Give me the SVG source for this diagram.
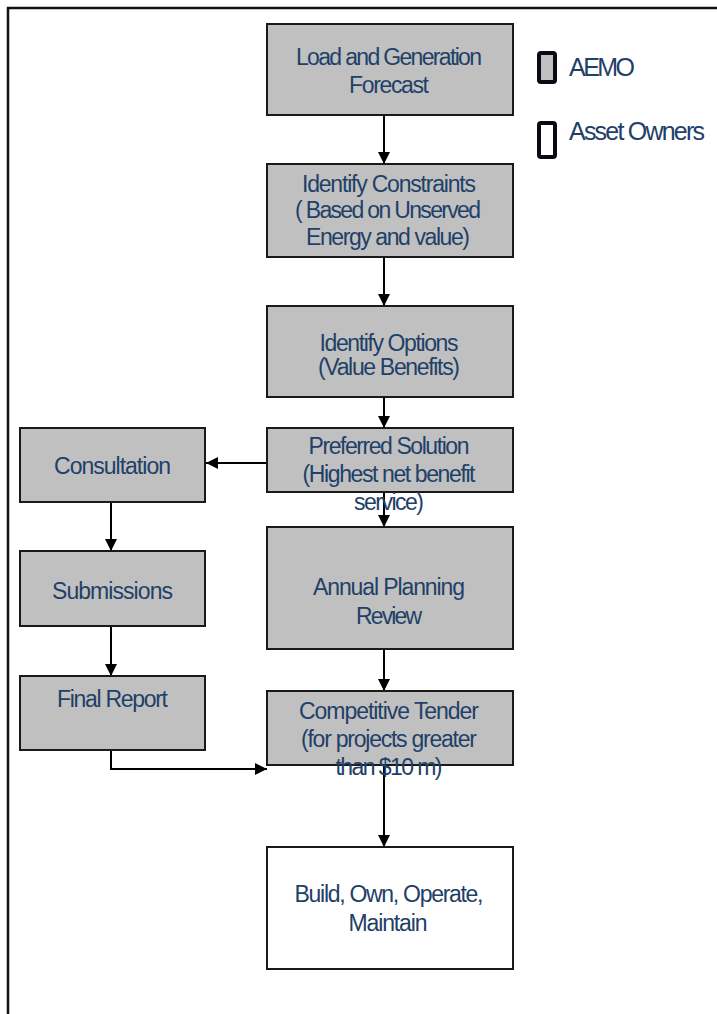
<svg xmlns="http://www.w3.org/2000/svg" width="717" height="1014" viewBox="0 0 717 1014">
  <defs>
    <marker id="arrow" viewBox="0 0 12 12" refX="12" refY="6" markerWidth="12" markerHeight="12" markerUnits="userSpaceOnUse" orient="auto">
      <path d="M0,0 L12,6 L0,12 Z" fill="#000"/>
    </marker>
    <style>
      .box { fill: #c0c0c0; stroke: #1a1a1a; stroke-width: 2; }
      .box-white { fill: #ffffff; stroke: #1a1a1a; stroke-width: 2; }
      .lbl { font-family: "Liberation Sans", Arial, sans-serif; font-size: 23px; fill: #1f4068; text-anchor: middle; }
      .leg { font-family: "Liberation Sans", Arial, sans-serif; font-size: 25px; fill: #1f4068; }
      .conn { fill: none; stroke: #000; stroke-width: 2; }
    </style>
  </defs>

  <rect width="717" height="1014" fill="#ffffff"/>
  <!-- outer frame, running off the right and bottom edges -->
  <rect x="8" y="8" width="760" height="1060" fill="none" stroke="#111" stroke-width="2.5"/>

  <!-- legend -->
  <g id="legend">
    <rect x="539" y="53" width="16" height="29" rx="2" fill="#c0c0c0" stroke="#0a0a14" stroke-width="4"/>
    <text class="leg" x="569" y="76" textLength="66">AEMO</text>
    <rect x="539" y="123" width="16" height="34" rx="2" fill="#ffffff" stroke="#0a0a14" stroke-width="4"/>
    <text class="leg" x="569" y="140" textLength="136">Asset Owners</text>
  </g>

  <!-- connectors -->
  <g id="connectors">
    <path class="conn" d="M384,115 V164" marker-end="url(#arrow)"/>
    <path class="conn" d="M384,257 V306" marker-end="url(#arrow)"/>
    <path class="conn" d="M384,397 V428" marker-end="url(#arrow)"/>
    <path class="conn" d="M384,492 V527" marker-end="url(#arrow)"/>
    <path class="conn" d="M267,463 H206" marker-end="url(#arrow)"/>
    <path class="conn" d="M111,502 V551" marker-end="url(#arrow)"/>
    <path class="conn" d="M111,626 V676" marker-end="url(#arrow)"/>
    <path class="conn" d="M111,750 V769 H267" marker-end="url(#arrow)"/>
    <path class="conn" d="M384,649 V691" marker-end="url(#arrow)"/>
    <path class="conn" d="M384,765 V847" marker-end="url(#arrow)"/>
  </g>

  <g id="forecast">
    <rect class="box" x="267" y="24" width="246" height="91"/>
    <text class="lbl" x="389" y="65" textLength="186">Load and Generation</text>
    <text class="lbl" x="389" y="93" textLength="80">Forecast</text>
  </g>

  <g id="constraints">
    <rect class="box" x="267" y="164" width="246" height="93"/>
    <text class="lbl" x="389" y="192" textLength="174">Identify Constraints</text>
    <text class="lbl" x="388" y="218" textLength="186">( Based on Unserved</text>
    <text class="lbl" x="388" y="245" textLength="164">Energy and value)</text>
  </g>

  <g id="options">
    <rect class="box" x="267" y="306" width="246" height="91"/>
    <text class="lbl" x="389" y="351" textLength="139">Identify Options</text>
    <text class="lbl" x="389" y="375" textLength="142">(Value Benefits)</text>
  </g>

  <g id="preferred">
    <rect class="box" x="267" y="428" width="246" height="64"/>
    <text class="lbl" x="389" y="454" textLength="161">Preferred Solution</text>
    <text class="lbl" x="389" y="482" textLength="173">(Highest net benefit</text>
    <text class="lbl" x="389" y="510" textLength="70">service)</text>
  </g>

  <g id="consultation">
    <rect class="box" x="20" y="428" width="185" height="74"/>
    <text class="lbl" x="112.5" y="474" textLength="117">Consultation</text>
  </g>

  <g id="submissions">
    <rect class="box" x="20" y="551" width="185" height="75"/>
    <text class="lbl" x="112.5" y="599" textLength="121">Submissions</text>
  </g>

  <g id="final-report">
    <rect class="box" x="20" y="676" width="185" height="74"/>
    <text class="lbl" x="112.5" y="707" textLength="111">Final Report</text>
  </g>

  <g id="annual-review">
    <rect class="box" x="267" y="527" width="246" height="122"/>
    <text class="lbl" x="389" y="595" textLength="152">Annual Planning</text>
    <text class="lbl" x="389" y="624" textLength="66">Review</text>
  </g>

  <g id="tender">
    <rect class="box" x="267" y="691" width="246" height="74"/>
    <text class="lbl" x="389" y="719" textLength="180">Competitive Tender</text>
    <text class="lbl" x="389" y="747" textLength="176">(for projects greater</text>
    <text class="lbl" x="389" y="775" textLength="107">than $10 m)</text>
  </g>

  <g id="build">
    <rect class="box-white" x="267" y="847" width="246" height="122"/>
    <text class="lbl" x="389" y="902" textLength="189">Build, Own, Operate,</text>
    <text class="lbl" x="388" y="931" textLength="79">Maintain</text>
  </g>
</svg>
